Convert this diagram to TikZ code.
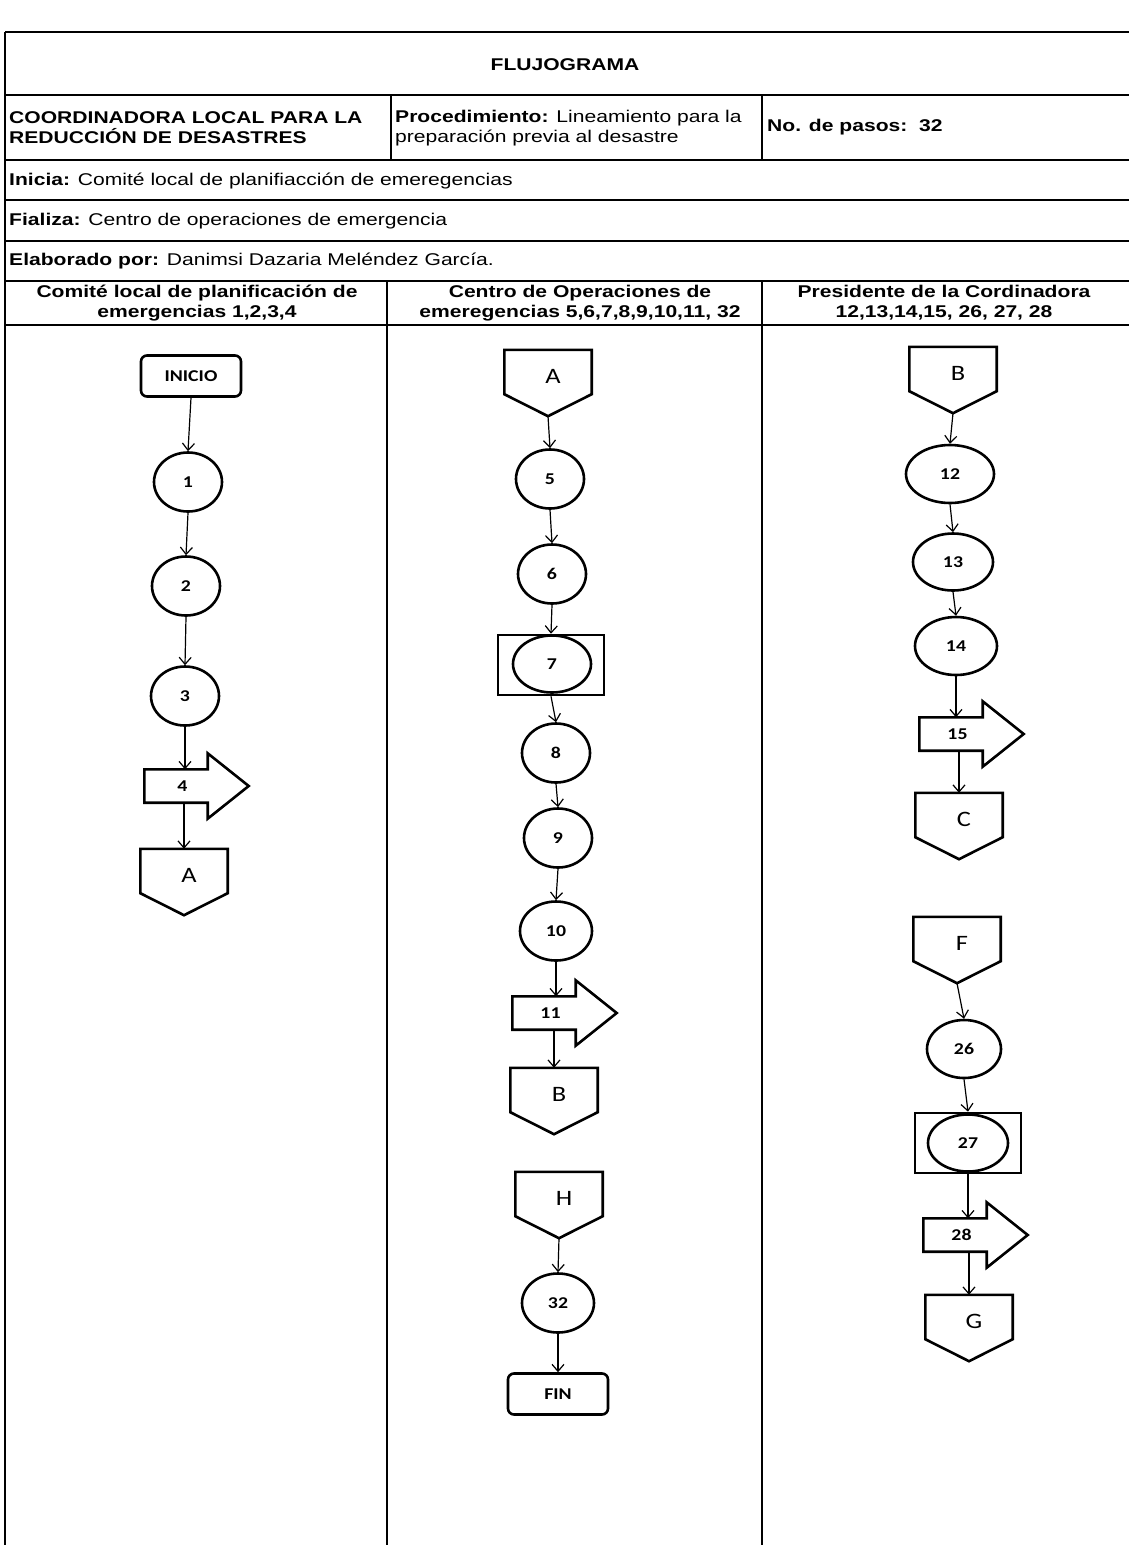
\documentclass[tikz,border=0pt]{standalone}
\usepackage{fontspec}
\setmainfont{Liberation Sans}[FakeStretch=1.24]
\newfontfamily\calibri{Carlito}[FakeStretch=1.2]
\usetikzlibrary{shapes.geometric,arrows.meta}

% off-page connector and block arrow outlines, drawn round a named node
\newcommand{\pentagono}[1]{\draw[forma] (#1.north west) -- (#1.north east) -- ([yshift=22pt]#1.south east) -- (#1.south) -- ([yshift=22pt]#1.south west) -- cycle;}
\newcommand{\flechagruesa}[1]{\draw[forma] (#1.north west) -- (#1.north east) -- ([yshift=16pt]#1.north east) -- ([xshift=41pt]#1.east) -- ([yshift=-16pt]#1.south east) -- (#1.south east) -- (#1.south west) -- cycle;}

\begin{document}
\begin{tikzpicture}[x=1pt,y=1pt]
            \tikzstyle{every node}+=[inner sep=0pt]
            \tikzstyle{tabla}=[line width=1.4pt]
            \tikzstyle{celda}=[anchor=west,align=left,font=\fontsize{17}{20}\selectfont]
            \tikzstyle{carril}=[align=center,font=\fontsize{17}{20}\selectfont\bfseries]
            \tikzstyle{paso}=[draw,ellipse,line width=2.6pt,minimum width=68pt,minimum height=59pt,font=\calibri\fontsize{16.5}{16}\selectfont\bfseries]
            \tikzstyle{terminal}=[draw,rounded corners=6pt,line width=2.6pt,minimum width=100pt,minimum height=41pt,font=\calibri\fontsize{16.5}{16}\selectfont\bfseries]
            \tikzstyle{conector}=[minimum width=87pt,minimum height=66pt,text depth=14pt,execute at begin node=\hspace*{10pt},font=\calibri\fontsize{22}{22}\selectfont]
            \tikzstyle{envio}=[minimum width=63pt,minimum height=33pt,execute at begin node=\hspace*{13pt},font=\calibri\fontsize{16.5}{16}\selectfont\bfseries]
            \tikzstyle{caja}=[draw,line width=2.6pt,minimum width=106pt,minimum height=60pt]
            \tikzstyle{forma}=[line width=2.6pt,line join=miter]
            \tikzstyle{flecha}=[line width=1.2pt,-{Straight Barb[length=7pt,width=12pt]}]
            \useasboundingbox (0,0) rectangle (1129,-1545);
            % table
            \foreach \y in {32,95,160,200,241,281,325}
              \draw [tabla] (5,-\y) -- (1129,-\y);
            \draw [line width=1.8pt] (5,-32) -- (5,-1545);
            \draw [tabla] (391,-95) -- (391,-160);
            \draw [tabla] (762,-95) -- (762,-160);
            \draw [tabla] (387,-281) -- (387,-1545);
            \draw [tabla] (762,-281) -- (762,-1545);
            \node [font=\fontsize{17}{20}\selectfont\bfseries] (titulo) at (565,-65) {FLUJOGRAMA};
            \node [celda] (entidad) at (9,-128) {\textbf{COORDINADORA LOCAL PARA LA}\\\textbf{REDUCCIÓN DE DESASTRES}};
            \node [celda] (procedimiento) at (395,-128) {\textbf{Procedimiento:} Lineamiento para la\\preparación previa al desastre};
            \node [celda] (pasos) at (767,-127) {\textbf{No. de pasos:\ \ 32}};
            \node [celda] (inicia) at (9,-181) {\textbf{Inicia:} Comité local de planifiacción de emeregencias};
            \node [celda] (finaliza) at (9,-221) {\textbf{Fializa:} Centro de operaciones de emergencia};
            \node [celda] (elaborado) at (9,-261) {\textbf{Elaborado por:} Danimsi Dazaria Meléndez García.};
            \node [carril] (carril1) at (197,-303) {Comité local de planificación de\\emergencias 1,2,3,4};
            \node [carril] (carril2) at (580,-303) {Centro de Operaciones de\\emeregencias 5,6,7,8,9,10,11, 32};
            \node [carril] (carril3) at (944,-303) {Presidente de la Cordinadora\\12,13,14,15, 26, 27, 28};
            % lane 1
            \node [terminal] (inicio) at (191,-376) {INICIO};
            \node [paso] (p1) at (188,-482) {1};
            \node [paso] (p2) at (186,-586) {2};
            \node [paso] (p3) at (185,-696) {3};
            \node [envio] (e4) at (176,-786) {4};
            \flechagruesa{e4}
            \node [conector] (cA1) at (184,-882) {A};
            \pentagono{cA1}
            % lane 2
            \node [conector] (cA2) at (548,-383) {A};
            \pentagono{cA2}
            \node [paso] (p5) at (550,-479) {5};
            \node [paso] (p6) at (552,-574) {6};
            \node [caja] (k7) at (551,-665) {};
            \node [paso,minimum width=78pt,minimum height=57pt] (p7) at (552,-664) {7};
            \node [paso] (p8) at (556,-753) {8};
            \node [paso] (p9) at (558,-838) {9};
            \node [paso,minimum width=72pt] (p10) at (556,-931) {10};
            \node [envio] (e11) at (544,-1013) {11};
            \flechagruesa{e11}
            \node [conector] (cB2) at (554,-1101) {B};
            \pentagono{cB2}
            \node [conector] (cH) at (559,-1205) {H};
            \pentagono{cH}
            \node [paso,minimum width=72pt] (p32) at (558,-1303) {32};
            \node [terminal] (fin) at (558,-1394) {FIN};
            % lane 3
            \node [conector] (cB3) at (953,-380) {B};
            \pentagono{cB3}
            \node [paso,minimum width=88pt,minimum height=58pt] (p12) at (950,-474) {12};
            \node [paso,minimum width=80pt,minimum height=57pt] (p13) at (953,-562) {13};
            \node [paso,minimum width=82pt,minimum height=58pt] (p14) at (956,-646) {14};
            \node [envio] (e15) at (951,-734) {15};
            \flechagruesa{e15}
            \node [conector] (cC) at (959,-826) {C};
            \pentagono{cC}
            \node [conector] (cF) at (957,-950) {F};
            \pentagono{cF}
            \node [paso,minimum width=74pt,minimum height=58pt] (p26) at (964,-1049) {26};
            \node [caja] (k27) at (968,-1143) {};
            \node [paso,minimum width=80pt,minimum height=57pt] (p27) at (968,-1143) {27};
            \node [envio] (e28) at (955,-1235) {28};
            \flechagruesa{e28}
            \node [conector] (cG) at (969,-1328) {G};
            \pentagono{cG}
            % arrows
            \foreach \a/\b in {inicio/p1,p1/p2,p2/p3,cA2/p5,p5/p6,p6/k7,k7/p8,p8/p9,p9/p10,cH/p32,p32/fin,
                               cB3/p12,p12/p13,p13/p14,cF/p26,p26/k27}
              \draw [flecha] (\a.south) -- (\b.north);
            \foreach \a/\b in {p3/e4,p10/e11,p14/e15,k27/e28}
              \draw [flecha] (\a.south) -- (\a.south |- \b.north);
            \foreach \a/\b in {e4/cA1,e11/cB2,e15/cC,e28/cG}
              \draw [flecha] (\a.south -| \b.north) -- (\b.north);
\end{tikzpicture}
\end{document}
